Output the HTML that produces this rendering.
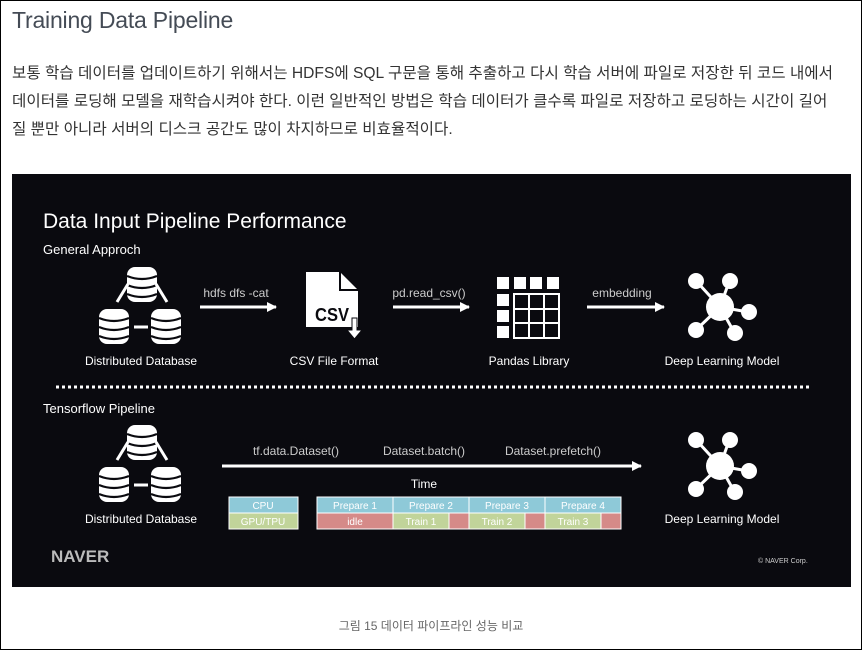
<!DOCTYPE html>
<html><head><meta charset="utf-8"><style>
html,body{margin:0;padding:0;background:#fff}
body{width:862px;height:650px;position:relative;overflow:hidden;font-family:"Liberation Sans","Noto Sans CJK KR",sans-serif}
.frame{position:absolute;left:0;top:0;width:860px;height:648px;border:1px solid #000}
h1{position:absolute;left:12px;top:7px;margin:0;font-weight:normal;font-size:23px;color:#444b55;letter-spacing:-0.2px}
p{position:absolute;left:12px;top:60px;width:845px;margin:0;font-size:15.6px;line-height:28px;color:#333;letter-spacing:0;white-space:nowrap}
.cap{position:absolute;left:0;width:862px;top:617px;text-align:center;font-size:12px;color:#666}
svg{position:absolute;left:12px;top:174px}
</style></head><body>
<div class="frame"></div>
<h1>Training Data Pipeline</h1>
<p>보통 학습 데이터를 업데이트하기 위해서는 HDFS에 SQL 구문을 통해 추출하고 다시 학습 서버에 파일로 저장한 뒤 코드 내에서<br>데이터를 로딩해 모델을 재학습시켜야 한다. 이런 일반적인 방법은 학습 데이터가 클수록 파일로 저장하고 로딩하는 시간이 길어<br>질 뿐만 아니라 서버의 디스크 공간도 많이 차지하므로 비효율적이다.</p>
<svg width="839" height="413" viewBox="12 174 839 413" font-family="Liberation Sans, sans-serif">
<defs>
<g id="stk">
<rect x="-15" y="-17" width="30" height="35" rx="8" fill="#fff"/>
<path d="M-15 -8 Q0 -2 15 -8 M-15 1 Q0 7 15 1 M-15 10 Q0 16 15 10" stroke="#0a0a0f" stroke-width="2.2" fill="none"/>
</g>
<g id="db">
<use href="#stk" x="0" y="0"/>
<use href="#stk" x="-28" y="42"/>
<use href="#stk" x="24" y="42"/>
<path d="M-14 0 L-25 18 M14 0 L25 18 M-8 43 L6 43" stroke="#fff" stroke-width="3"/>
</g>
<g id="net" fill="#fff" stroke="#fff">
<path d="M0 0 L-22 -24 M0 0 L9 -25 M0 0 L28 5 M0 0 L14 25 M0 0 L-23 22" stroke-width="3"/>
<circle r="14" stroke="none"/>
<circle cx="-24" cy="-26" r="8" stroke="none"/>
<circle cx="10" cy="-26" r="8" stroke="none"/>
<circle cx="29" cy="5" r="8" stroke="none"/>
<circle cx="15" cy="26" r="8" stroke="none"/>
<circle cx="-24" cy="23" r="8" stroke="none"/>
</g>
<marker id="ah" markerWidth="10" markerHeight="10" refX="9" refY="5" orient="auto" markerUnits="userSpaceOnUse"><path d="M0 0 L10 5 L0 10z" fill="#fff"/></marker>
</defs>
<rect x="12" y="174" width="839" height="413" fill="#0a0a0f"/>
<text x="43" y="228" fill="#fff" font-size="21">Data Input Pipeline Performance</text>
<text x="43" y="254" fill="#fff" font-size="13">General Approch</text>
<use href="#db" x="142" y="284"/>
<text x="141" y="365" fill="#fff" font-size="12" text-anchor="middle">Distributed Database</text>
<text x="236" y="297" fill="#ccc" font-size="12" text-anchor="middle">hdfs dfs -cat</text>
<line x1="200" y1="307" x2="276" y2="307" stroke="#fff" stroke-width="3" marker-end="url(#ah)"/>
<path d="M306 272 L340 272 L358 290 L358 327 L306 327 Z" fill="#fff"/>
<path d="M340 272 L340 290 L358 290" fill="none" stroke="#0a0a0f" stroke-width="2"/>
<text x="332" y="321" fill="#0a0a0f" font-size="18" font-weight="bold" text-anchor="middle" textLength="34" lengthAdjust="spacingAndGlyphs">CSV</text>
<path d="M352 318 L357 318 L357 330 L362 330 L354.5 339 L347 330 L352 330 Z" fill="#fff" stroke="#0a0a0f" stroke-width="1"/>
<text x="334" y="365" fill="#fff" font-size="12" text-anchor="middle">CSV File Format</text>
<text x="429" y="297" fill="#ccc" font-size="12" text-anchor="middle">pd.read_csv()</text>
<line x1="393" y1="307" x2="469" y2="307" stroke="#fff" stroke-width="3" marker-end="url(#ah)"/>
<g fill="#fff">
<rect x="497" y="277" width="12" height="12"/><rect x="514" y="277" width="12" height="12"/><rect x="530" y="277" width="12" height="12"/><rect x="547" y="277" width="12" height="12"/>
<rect x="497" y="294" width="12" height="12"/><rect x="497" y="310" width="12" height="12"/><rect x="497" y="326" width="12" height="12"/>
</g>
<g stroke="#fff" stroke-width="2" fill="none">
<rect x="514" y="294" width="45" height="44"/>
<path d="M529 294 V338 M544 294 V338 M514 309 H559 M514 323 H559"/>
</g>
<text x="529" y="365" fill="#fff" font-size="12" text-anchor="middle">Pandas Library</text>
<text x="622" y="297" fill="#ccc" font-size="12" text-anchor="middle">embedding</text>
<line x1="587" y1="307" x2="664" y2="307" stroke="#fff" stroke-width="3" marker-end="url(#ah)"/>
<use href="#net" x="720" y="307"/>
<text x="722" y="365" fill="#fff" font-size="12" text-anchor="middle">Deep Learning Model</text>
<line x1="56" y1="387" x2="810" y2="387" stroke="#fff" stroke-width="3" stroke-dasharray="3 3"/>
<text x="43" y="413" fill="#fff" font-size="13">Tensorflow Pipeline</text>
<use href="#db" x="142" y="442"/>
<text x="141" y="523" fill="#fff" font-size="12" text-anchor="middle">Distributed Database</text>
<text x="296" y="455" fill="#ccc" font-size="12" text-anchor="middle">tf.data.Dataset()</text>
<text x="424" y="455" fill="#ccc" font-size="12" text-anchor="middle">Dataset.batch()</text>
<text x="553" y="455" fill="#ccc" font-size="12" text-anchor="middle">Dataset.prefetch()</text>
<line x1="222" y1="466" x2="641" y2="466" stroke="#fff" stroke-width="3" marker-end="url(#ah)"/>
<text x="424" y="488" fill="#fff" font-size="12" text-anchor="middle">Time</text>
<g stroke="#fff" stroke-width="1" font-size="10" text-anchor="middle">
<rect x="229" y="497" width="69" height="16" fill="#8ec9d8"/><rect x="229" y="513" width="69" height="16" fill="#c1d49a"/>
<rect x="317" y="497" width="76" height="16" fill="#8ec9d8"/><rect x="393" y="497" width="76" height="16" fill="#8ec9d8"/>
<rect x="469" y="497" width="76" height="16" fill="#8ec9d8"/><rect x="545" y="497" width="76" height="16" fill="#8ec9d8"/>
<rect x="317" y="513" width="76" height="16" fill="#d58a88"/>
<rect x="393" y="513" width="56" height="16" fill="#c1d49a"/><rect x="449" y="513" width="20" height="16" fill="#d58a88"/>
<rect x="469" y="513" width="56" height="16" fill="#c1d49a"/><rect x="525" y="513" width="20" height="16" fill="#d58a88"/>
<rect x="545" y="513" width="56" height="16" fill="#c1d49a"/><rect x="601" y="513" width="20" height="16" fill="#d58a88"/>
<g stroke="none" fill="#fff">
<text x="263" y="509">CPU</text><text x="263" y="525">GPU/TPU</text>
<text x="355" y="509">Prepare 1</text><text x="431" y="509">Prepare 2</text><text x="507" y="509">Prepare 3</text><text x="583" y="509">Prepare 4</text>
<text x="355" y="525">idle</text><text x="421" y="525">Train 1</text><text x="497" y="525">Train 2</text><text x="573" y="525">Train 3</text>
</g></g>
<use href="#net" x="720" y="466"/>
<text x="722" y="523" fill="#fff" font-size="12" text-anchor="middle">Deep Learning Model</text>
<text x="51" y="562" fill="#bbb" font-size="17" font-weight="bold">NAVER</text>
<text x="758" y="563" fill="#ccc" font-size="7">© NAVER Corp.</text>
</svg>
<div class="cap">그림 15 데이터 파이프라인 성능 비교</div>
</body></html>
